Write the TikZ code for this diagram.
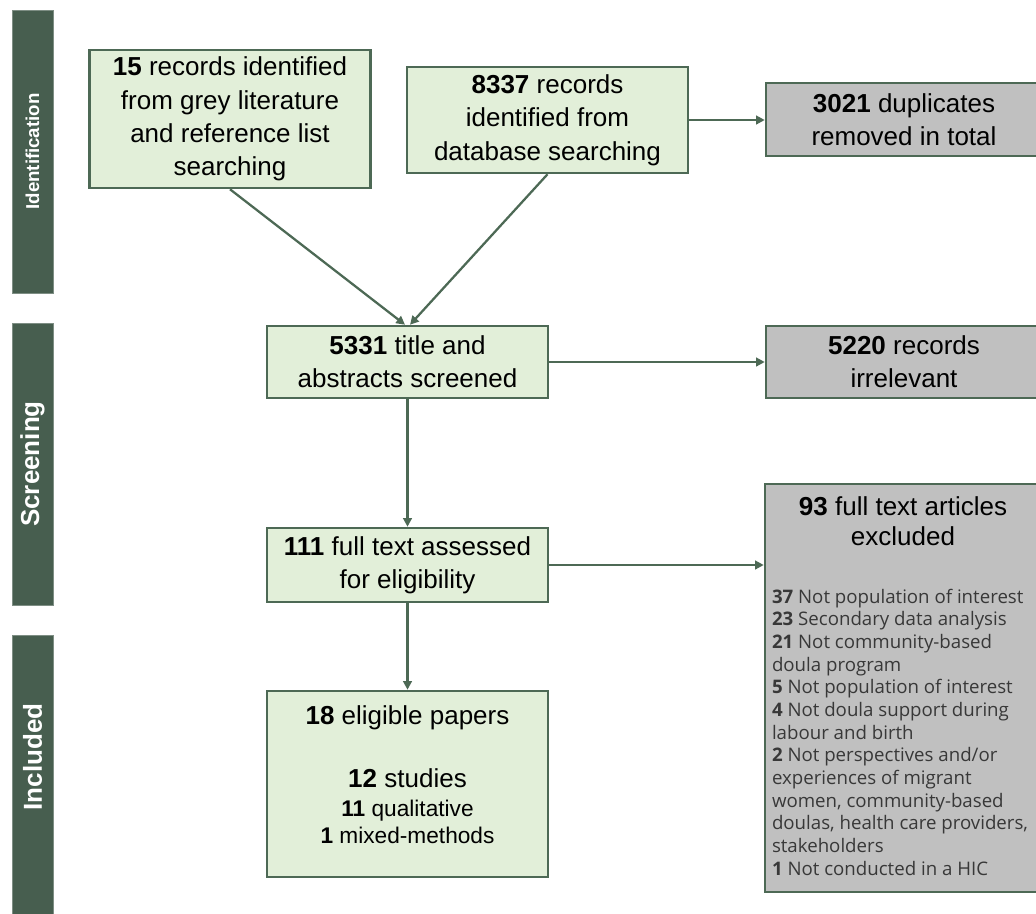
\documentclass[tikz,border=0pt]{standalone}
\usepackage{fontspec}
\setmainfont{Liberation Sans}
\newfontfamily\listfont{Open Sans}
\usetikzlibrary{arrows.meta,positioning}

\newlength{\pxu}\setlength{\pxu}{0.75pt}
\definecolor{phasegreen}{HTML}{475E4F}
\definecolor{boxgreen}{HTML}{E2EFD9}
\definecolor{edgegreen}{HTML}{4D6955}
\definecolor{boxgrey}{HTML}{C0C0C0}
\definecolor{listgrey}{HTML}{383838}

\begin{document}
\begin{tikzpicture}[x=0.75pt, y=-0.75pt,
    phase/.style={fill=phasegreen, draw=phasegreen!70!white, thin, text=white, rotate=90,
      minimum height=41\pxu, inner sep=0pt, font=\bfseries\fontsize{19.5}{22}\selectfont},
    stepbox/.style={draw=edgegreen, line width=1.9pt, fill=boxgreen, align=center,
      minimum width=281\pxu, inner sep=0pt, font=\fontsize{19.5}{25}\selectfont},
    outbox/.style={stepbox, fill=boxgrey, minimum width=276\pxu},
    txt/.style={inner sep=0pt, align=center},
    flow/.style={draw=edgegreen, line width=1.7pt, -{Triangle[length=6.5pt,width=6.5pt]}}]

    % page
    \clip (0,0) rectangle (1036,914);
    \fill[white] (0,0) rectangle (1036,914);

    % phases
    \node[phase, minimum width=283\pxu] (ident) at (32.5,151.5) {\fontsize{14}{16}\selectfont Identification};
    \node[phase, minimum width=282\pxu] (screen) at (32.5,464) {Screening};
    \node[phase, minimum width=290\pxu] (included) at (32.5,780) {\hspace*{46\pxu}Included};

    % identification
    \node[stepbox, minimum height=138\pxu] (grey) at (230,119)
        {\textbf{15} records identified\\from grey literature\\and reference list\\searching};
    \node[stepbox, minimum height=106\pxu] (db) at (547.5,120)
        {\textbf{8337} records\\identified from\\database searching};
    \node[outbox, minimum height=73\pxu] (dup) at (904,119.5)
        {\textbf{3021} duplicates\\removed in total};

    % screening
    \node[stepbox, minimum height=72\pxu] (screened) at (407.5,362)
        {\textbf{5331} title and\\abstracts screened};
    \node[outbox, minimum height=72\pxu] (irrel) at (904,362)
        {\textbf{5220} records\\irrelevant};
    \node[stepbox, minimum height=74\pxu] (fulltext) at (407.5,565)
        {\textbf{111} full text assessed\\for eligibility};
    \node[outbox, minimum height=408\pxu] (excl) at (903,688) {};
    \node[txt, below=14\pxu of excl.north, font=\fontsize{19.5}{22.5}\selectfont] (excltitle)
        {\textbf{93} full text articles\\excluded};
    \node[txt, below right=106\pxu and 8\pxu of excl.north west, align=left, text=listgrey,
        font=\listfont\fontsize{14}{17}\selectfont] (excllist)
        {\textbf{37} Not population of interest\\
         \textbf{23} Secondary data analysis\\
         \textbf{21} Not community-based\\
         doula program\\
         \textbf{5} Not population of interest\\
         \textbf{4} Not doula support during\\
         labour and birth\\
         \textbf{2} Not perspectives and/or\\
         experiences of migrant\\
         women, community-based\\
         doulas, health care providers,\\
         stakeholders\\
         \textbf{1} Not conducted in a HIC};

    % included
    \node[stepbox, minimum height=186\pxu] (eligible) at (407.5,784) {};
    \node[txt, below=16\pxu of eligible.north, font=\fontsize{19.5}{25}\selectfont] (eligibletext)
        {\textbf{18} eligible papers\\[22.25pt]
         \textbf{12} studies\\[-3.25pt]
         {\fontsize{17}{20}\selectfont\textbf{11} qualitative}\\[-4.75pt]
         {\fontsize{17}{20}\selectfont\textbf{1} mixed-methods}};

    % arrows
    \draw[flow] (grey.south) -- ([xshift=-2.5\pxu]screened.north);
    \draw[flow] (db.south) -- ([xshift=2.5\pxu]screened.north);
    \draw[flow] (db.east) -- (db.east -| dup.west);
    \draw[flow] (screened.east) -- (irrel.west);
    \draw[flow] (screened.south) -- (fulltext.north);
    \draw[flow] (fulltext.east) -- (fulltext.east -| excl.west);
    \draw[flow] (fulltext.south) -- (eligible.north);
\end{tikzpicture}
\end{document}
